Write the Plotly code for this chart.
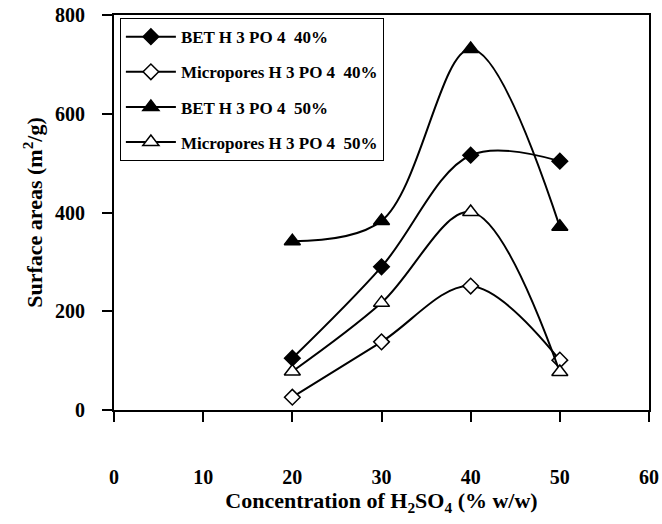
import plotly.graph_objects as go

x_conc = [20, 30, 40, 50]
bet_40 = [105, 290, 516, 504]
micro_40 = [26, 138, 251, 101]
bet_50 = [342, 383, 731, 371]
micro_50 = [78, 217, 401, 77]

names = ["BET H 3 PO 4  40%", "Micropores H 3 PO 4  40%",
         "BET H 3 PO 4  50%", "Micropores H 3 PO 4  50%"]
symbols = ["diamond", "diamond", "triangle-up", "triangle-up"]
fills = ["black", "white", "black", "white"]
sizes = [12, 12, 14, 14]
series = [bet_40, micro_40, bet_50, micro_50]

FONT = "Liberation Serif"
fig = go.Figure()
for i, (nm, ys) in enumerate(zip(names, series)):
    fig.add_trace(go.Scatter(
        x=x_conc, y=ys, name=nm, mode="lines+markers",
        legendgroup=f"g{i}",
        line=dict(color="black", width=2, shape="spline", smoothing=1.0),
        marker=dict(symbol=symbols[i], size=sizes[i], color=fills[i],
                    line=dict(color="black", width=1.5)),
    ))

fig.update_layout(
    width=662, height=524,
    margin=dict(l=114, r=13, t=15, b=114),
    paper_bgcolor="white", plot_bgcolor="white",
    font=dict(family=FONT, color="black"),
    showlegend=True,
    legend=dict(x=0.011, y=0.992, xanchor="left", yanchor="top",
                bordercolor="black", borderwidth=1, bgcolor="white",
                font=dict(family=FONT, size=17, color="black", weight="bold"),
                tracegroupgap=10, itemwidth=50),
    xaxis=dict(range=[0, 60], tickvals=[0, 10, 20, 30, 40, 50, 60],
               ticks="outside", ticklen=10, tickwidth=1.5, tickcolor="black",
               showline=True, linecolor="black", linewidth=2, mirror=True,
               showgrid=False, zeroline=False, automargin=False,
               ticklabelstandoff=38,
               tickfont=dict(family=FONT, size=20, weight="bold"),
               title=dict(text="Concentration of H<sub>2</sub>SO<sub>4</sub> (% w/w)",
                          font=dict(family=FONT, size=22, weight="bold"),
                          standoff=0)),
    yaxis=dict(range=[0, 800], tickvals=[0, 200, 400, 600, 800],
               ticks="outside", ticklen=10, tickwidth=1.5, tickcolor="black",
               showline=True, linecolor="black", linewidth=2, mirror=True,
               showgrid=False, zeroline=False, automargin=False,
               ticklabelstandoff=13,
               tickfont=dict(family=FONT, size=20, weight="bold"),
               title=dict(text="Surface areas (m<sup>2</sup>/g)",
                          font=dict(family=FONT, size=22, weight="bold"),
                          standoff=6)),
)

fig.write_html("out.html")
